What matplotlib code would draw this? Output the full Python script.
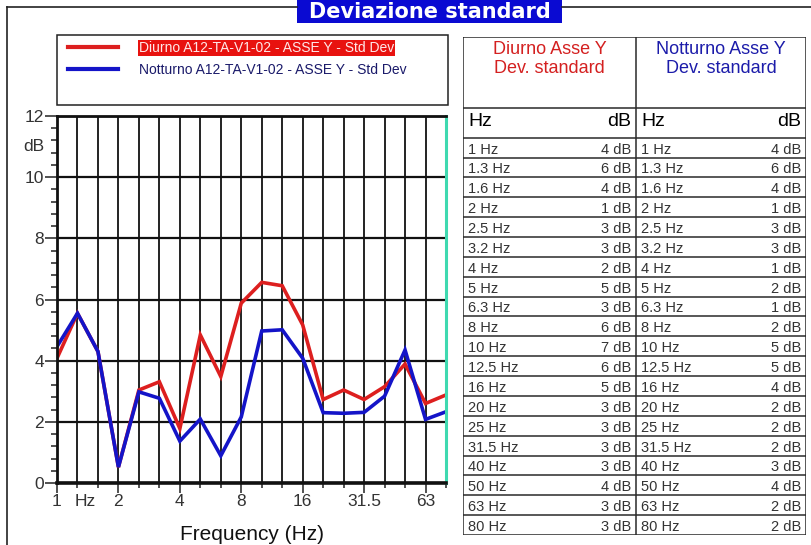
import matplotlib
matplotlib.use("Agg")
import matplotlib.pyplot as plt
from matplotlib.lines import Line2D
from matplotlib.patches import Rectangle
import numpy as np

plt.rcParams["font.family"] = "Liberation Sans"

# bande di terzo d'ottava 1 - 80 Hz
bande = ["1", "1.3", "1.6", "2", "2.5", "3.2", "4", "5", "6.3", "8", "10",
         "12.5", "16", "20", "25", "31.5", "40", "50", "63", "80"]
etichette_x = ["1", "2", "4", "8", "16", "31.5", "63"]
pos_etichette_x = [0, 3, 6, 9, 12, 15, 18]

# deviazione standard [dB]
diurno = [4.08, 5.55, 4.30, 0.52, 3.04, 3.31, 1.78, 4.84, 3.48, 5.88,
          6.56, 6.45, 5.17, 2.73, 3.04, 2.73, 3.15, 3.89, 2.60, 2.88]
notturno = [4.46, 5.55, 4.30, 0.52, 2.98, 2.77, 1.37, 2.09, 0.89, 2.16,
            4.97, 5.01, 4.08, 2.30, 2.28, 2.31, 2.84, 4.35, 2.08, 2.33]

nome_diurno = "Diurno A12-TA-V1-02 - ASSE Y - Std Dev"
nome_notturno = "Notturno A12-TA-V1-02 - ASSE Y - Std Dev"

W, H = 812, 545
ROSSO = "#dd1f1f"
BLU = "#1414c8"
TESTO = "#333333"
PT = 72 / 100  # pixel -> punti


def fx(px):
    return px / W


def fy(py):
    return 1 - py / H


fig = plt.figure(figsize=(W / 100, H / 100), dpi=100)
fig.patch.set_facecolor("white")

# cornice del pannello
for xs, ys in [((7, 297), (7, 7)), ((562, 812), (7, 7)), ((7, 7), (7, 545))]:
    fig.add_artist(Line2D([fx(xs[0]), fx(xs[1])], [fy(ys[0]), fy(ys[1])],
                          color="#222222", lw=1.2, transform=fig.transFigure))

# titolo
fig.add_artist(Rectangle((fx(297), fy(23)), fx(562) - fx(297), fy(0) - fy(23),
                         transform=fig.transFigure, facecolor="#0a0ad2",
                         edgecolor="none"))
fig.text(fx(429.5), fy(11.5), "Deviazione standard", color="white",
         family="DejaVu Sans", fontweight="bold", fontsize=15,
         ha="center", va="center")

# grafico
ax = fig.add_axes([fx(57), fy(483), fx(446) - fx(57), fy(116) - fy(483)])
x = np.arange(len(bande))
l1, = ax.plot(x, diurno, color=ROSSO, lw=2.6, solid_joinstyle="miter")
l2, = ax.plot(x, notturno, color=BLU, lw=2.6, solid_joinstyle="miter")
ax.set_xlim(0, len(bande) - 1)
ax.set_ylim(0, 12)

ax.set_xticks(pos_etichette_x)
ax.set_xticklabels(etichette_x)
ax.set_xticks(x, minor=True)
ax.set_yticks(np.arange(0, 13, 2))
ax.set_yticks(np.arange(0, 12.01, 0.4), minor=True)
ax.tick_params(axis="both", which="both", direction="out", width=1.1,
               color="#222222", labelcolor=TESTO, labelsize=12.5)
ax.tick_params(axis="x", which="major", length=10 * PT, pad=1 * PT)
ax.tick_params(axis="x", which="minor", length=5 * PT)
ax.tick_params(axis="y", which="major", length=12 * PT, pad=1 * PT)
ax.tick_params(axis="y", which="minor", length=6 * PT)
ax.grid(True, axis="x", which="both", color="#111111", lw=1.3)
ax.grid(True, axis="y", which="major", color="#111111", lw=1.6)
ax.set_axisbelow(True)

for s in ["left", "top"]:
    ax.spines[s].set_linewidth(2)
    ax.spines[s].set_color("#111111")
ax.spines["bottom"].set_linewidth(2.6)
ax.spines["bottom"].set_color("#111111")
ax.spines["right"].set_linewidth(2.2)
ax.spines["right"].set_color("#3fd9b0")

ax.annotate("Hz", xy=(1.4, 0), xycoords=("data", "axes fraction"),
            xytext=(0, -11 * PT), textcoords="offset points", ha="center",
            va="top", fontsize=12.5, color=TESTO)
ax.text(-0.033, 11, "dB", transform=ax.get_yaxis_transform(), ha="right",
        va="center", fontsize=12.5, color=TESTO)
fig.text(fx(252), fy(535), "Frequency (Hz)", ha="center", va="center",
         fontsize=15, color="#111111")

# legenda
fig.add_artist(Rectangle((fx(57), fy(105)), fx(448) - fx(57), fy(35) - fy(105),
                         transform=fig.transFigure, facecolor="none",
                         edgecolor="#222222", lw=1.1))
leg = fig.legend([l1, l2], [nome_diurno, nome_notturno], loc="upper left",
                 bbox_to_anchor=(fx(65), fy(38.5)), frameon=False, fontsize=10,
                 handlelength=3.6, handletextpad=1.55, labelspacing=0.55,
                 borderpad=0.2, borderaxespad=0)
for h in leg.legend_handles:
    h.set_linewidth(3)
t_diurno, t_notturno = leg.get_texts()
t_diurno.set_color("#ffe8e8")
t_diurno.set_bbox(dict(facecolor="#e8120f", edgecolor="none", pad=0.6))
t_notturno.set_color("#1a1a6a")

# tabella dei valori
tx0, tmid, tx1 = 463, 636.5, 806
ty_top, ty_head, ty_hz, ty_bot = 37, 108, 137.7, 535
row_h = (ty_bot - ty_hz) / len(bande)

tab = fig.add_axes([fx(tx0), fy(ty_bot), fx(tx1) - fx(tx0), fy(ty_top) - fy(ty_bot)])
tab.set_xlim(tx0, tx1)
tab.set_ylim(ty_bot, ty_top)
tab.axis("off")

bordo = dict(color="#2a2a2a", lw=1.1)
tab.plot([tx0, tx1, tx1, tx0, tx0], [ty_top, ty_top, ty_bot, ty_bot, ty_top], **bordo)
tab.plot([tmid, tmid], [ty_top, ty_bot], **bordo)
for yy in [ty_head, ty_hz]:
    tab.plot([tx0, tx1], [yy, yy], **bordo)
for i in range(1, len(bande)):
    tab.plot([tx0, tx1], [ty_hz + i * row_h] * 2, **bordo)

colonne = [
    (tx0, tmid, "Diurno Asse Y\nDev. standard", "#d42020", diurno),
    (tmid, tx1, "Notturno Asse Y\nDev. standard", "#1c1caa", notturno),
]
for c0, c1, titolo, col, valori in colonne:
    tab.text((c0 + c1) / 2, 59, titolo, ha="center", va="center", color=col,
             fontsize=13, linespacing=1.2)
    tab.text(c0 + 5, 121, "Hz", ha="left", va="center", fontsize=14,
             color="black")
    tab.text(c1 - 5, 121, "dB", ha="right", va="center", fontsize=14,
             color="black")
    for i, (b, v) in enumerate(zip(bande, valori)):
        yb = ty_hz + (i + 1) * row_h - 1
        tab.text(c0 + 5, yb, f"{b} Hz", ha="left", va="bottom",
                 fontsize=10.5, color=TESTO)
        tab.text(c1 - 5, yb, f"{int(round(v))} dB", ha="right", va="bottom",
                 fontsize=10.5, color=TESTO)

fig.savefig("out.png", dpi=100)
